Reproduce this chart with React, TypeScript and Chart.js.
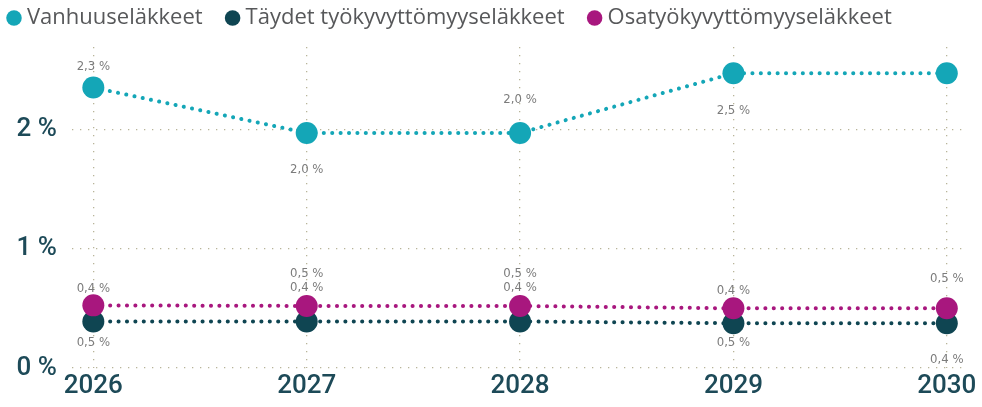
import React, { useEffect, useRef } from 'react';
import { Chart, registerables } from 'chart.js';

Chart.register(...registerables);

// ---- data ----
const YEARS = [2026, 2027, 2028, 2029, 2030];
const SERIES_NAMES = ['Vanhuuseläkkeet', 'Täydet työkyvyttömyyseläkkeet', 'Osatyökyvyttömyyseläkkeet'];
const VANHUUS = [2.35, 1.97, 1.97, 2.47, 2.47];
const TAYDET = [0.39, 0.39, 0.39, 0.375, 0.375];
const OSA = [0.525, 0.52, 0.52, 0.5, 0.5];
const VANHUUS_LABELS = ['2,3 %', '2,0 %', '2,0 %', '2,5 %', ''];
const TAYDET_LABELS = ['0,5 %', '0,5 %', '0,5 %', '0,5 %', '0,4 %'];
const OSA_LABELS = ['0,4 %', '0,4 %', '0,4 %', '0,4 %', '0,5 %'];
const Y_TICKS = [0, 1, 2];

// ---- style / layout ----
const COLORS = ['#14a6b7', '#0f4552', '#a8177e'];
const LABEL_OFFSETS = [
  [-21, 37, -33, 37, 0],
  [21, -48, -48, 19, 36],
  [-17, -18, -18, -18, -30],
];
const TICK_COLOR = '#1d4a58';
const GRID_COLOR = '#b8b499';
const LEGEND_PAD = 28;

const legendHeight = {
  id: 'legendHeight',
  beforeInit(chart: any) {
    const fit = chart.legend.fit;
    chart.legend.fit = function () {
      fit.bind(chart.legend)();
      this.height = 47 - (7 - LEGEND_PAD);
    };
  },
};

const pointLabels = {
  id: 'pointLabels',
  afterDatasetsDraw(chart: any) {
    const ctx = chart.ctx;
    ctx.save();
    ctx.font = '13px "DejaVu Sans Condensed", Roboto, sans-serif';
    ctx.fillStyle = '#7c7c7c';
    ctx.textAlign = 'center';
    ctx.textBaseline = 'middle';
    chart.data.datasets.forEach((ds: any, i: number) => {
      const meta = chart.getDatasetMeta(i);
      meta.data.forEach((pt: any, j: number) => {
        const t = ds.labelTexts[j];
        if (!t) return;
        ctx.fillText(t, pt.x, pt.y + LABEL_OFFSETS[i][j]);
      });
    });
    ctx.restore();
  },
};

export default function App() {
  const ref = useRef<HTMLCanvasElement | null>(null);

  useEffect(() => {
    document.body.style.margin = '0';
    const canvas = ref.current;
    if (!canvas) return;
    const seriesValues = [VANHUUS, TAYDET, OSA];
    const seriesLabels = [VANHUUS_LABELS, TAYDET_LABELS, OSA_LABELS];
    const orders = [0, 2, 1];
    const datasets = SERIES_NAMES.map((name, i) => ({
      label: name,
      data: YEARS.map((x, j) => ({ x, y: seriesValues[i][j] })),
      labelTexts: seriesLabels[i],
      order: orders[i],
      borderColor: COLORS[i],
      backgroundColor: COLORS[i],
      pointBackgroundColor: COLORS[i],
      pointBorderColor: COLORS[i],
      pointBorderWidth: 0,
      pointRadius: 11,
      pointHoverRadius: 11,
      borderWidth: 4,
      borderDash: [0.1, 8.3],
      borderCapStyle: 'round',
      tension: 0,
      fill: false,
    }));

    const gridOpts = { color: GRID_COLOR, lineWidth: 1.3, drawTicks: false };
    const borderOpts = { display: false, dash: [1.3, 6.7] };

    const chart = new Chart(canvas, {
      type: 'line',
      data: { datasets } as any,
      plugins: [legendHeight, pointLabels],
      options: {
        responsive: false,
        animation: false,
        devicePixelRatio: 1,
        layout: { padding: { left: -16, right: 16, top: 7 - LEGEND_PAD, bottom: 0 } },
        plugins: {
          tooltip: { enabled: false },
          legend: {
            display: true,
            position: 'top',
            align: 'start',
            labels: {
              usePointStyle: true,
              pointStyle: 'circle',
              boxWidth: 4,
              boxHeight: 11,
              padding: LEGEND_PAD,
              color: '#57585a',
              font: { size: 22, family: '"Open Sans", "Noto Sans", sans-serif' },
              sort: (a: any, b: any) => a.datasetIndex - b.datasetIndex,
            },
          },
        },
        scales: {
          x: {
            type: 'linear',
            min: 2025.9,
            max: 2030.09,
            afterBuildTicks: (scale: any) => {
              scale.ticks = YEARS.map((v) => ({ value: v }));
            },
            afterFit: (scale: any) => {
              scale.height = 39;
            },
            ticks: {
              color: TICK_COLOR,
              padding: 3,
              font: { size: 26, family: 'Roboto, sans-serif', weight: '500' },
              callback: (v: any) => String(v),
              maxRotation: 0,
              autoSkip: false,
            },
            grid: gridOpts,
            border: borderOpts,
          },
          y: {
            type: 'linear',
            min: 0,
            max: 2.69,
            afterBuildTicks: (scale: any) => {
              scale.ticks = Y_TICKS.map((v) => ({ value: v }));
            },
            afterFit: (scale: any) => {
              scale.width = 72 + 16;
            },
            ticks: {
              color: TICK_COLOR,
              padding: 15,
              font: { size: 26, family: 'Roboto, sans-serif', weight: '500' },
              callback: (v: any) => `${v} %`,
            },
            grid: gridOpts,
            border: borderOpts,
          },
        },
      } as any,
    });
    return () => chart.destroy();
  }, []);

  return (
    <div style={{ width: 982, height: 407 }}>
      <canvas ref={ref} width={982} height={407} style={{ display: 'block' }} />
    </div>
  );
}
